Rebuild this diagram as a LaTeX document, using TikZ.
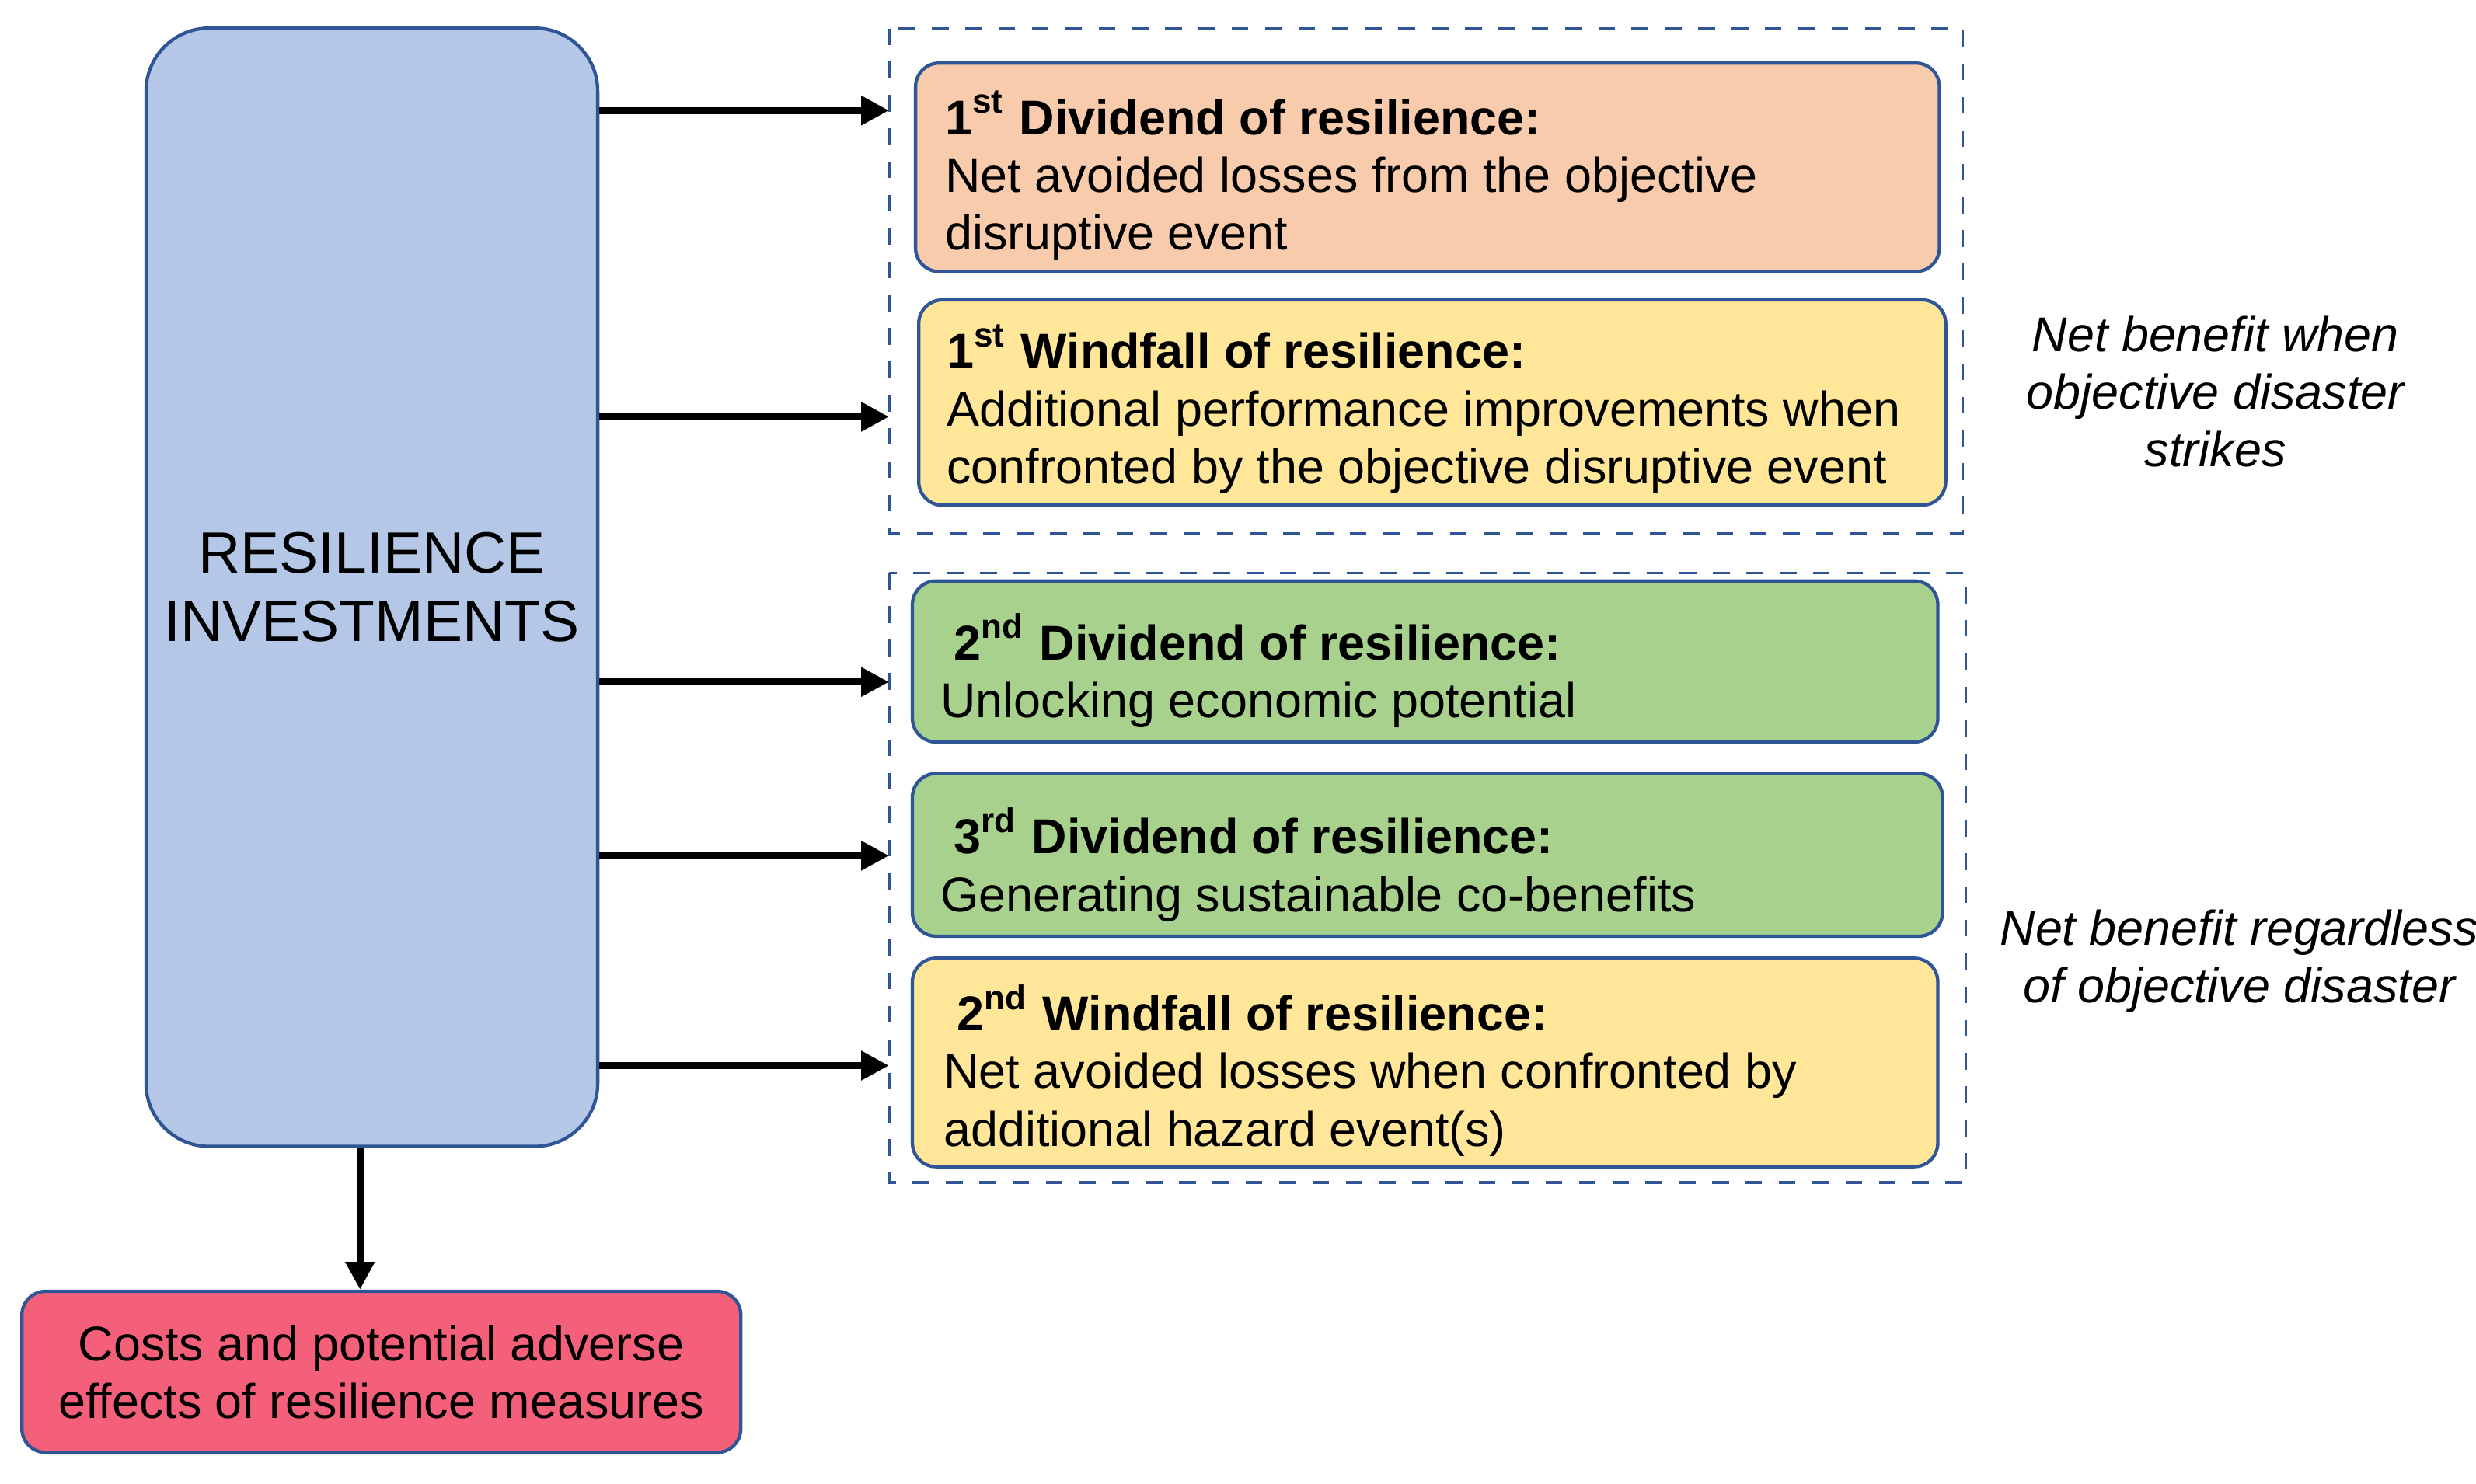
\documentclass[tikz,border=0pt]{standalone}
\usepackage{fontspec}
\setmainfont{Liberation Sans}
\usetikzlibrary{arrows.meta}
\definecolor{bluef}{HTML}{B4C7E7}
\definecolor{blued}{HTML}{2F5597}
\definecolor{orf}{HTML}{F8CBAD}
\definecolor{yef}{HTML}{FFE699}
\definecolor{grf}{HTML}{A9D18E}
\definecolor{ref}{HTML}{F4607A}
\definecolor{gry}{HTML}{404040}
\tikzset{
 card/.style={draw=blued, line width=0.6pt, rounded corners=0.15cm, inner sep=0pt},
 txt/.style={anchor=north west, align=left, font=\fontsize{8.8}{10.4}\selectfont, inner sep=0pt},
 arr/.style={-{Triangle[length=5pt,width=5pt]}, line width=1.3pt},
 dbox/.style={draw=blued, dashed, line width=0.5pt},
 note/.style={align=center, font=\fontsize{8.8}{10.4}\selectfont\itshape}
}
\begin{document}
\begin{tikzpicture}[x=0.01cm,y=-0.01cm]
\useasboundingbox (0,0) rectangle (1568,940);
\node[draw=blued, fill=bluef, line width=0.6pt, rounded corners=0.4cm, minimum width=2.85cm, minimum height=7.08cm, align=center, font=\fontsize{10.5}{12.4}\selectfont] (inv) at (235.5,372) {RESILIENCE\\INVESTMENTS};
\node[card, fill=ref, minimum width=4.55cm, minimum height=1.02cm, align=center, font=\fontsize{8.8}{10.4}\selectfont] (cost) at (241.5,869) {Costs and potential adverse\\effects of resilience measures};
\draw[arr] (inv.south -| 228,0) -- (cost.north -| 228,0);
\draw[dbox] (563,18) rectangle (1243,338);
\draw[dbox] (563,363) rectangle (1245,749);
\node[card, fill=orf, minimum width=6.48cm, minimum height=1.32cm] (b1) at (904,106) {};
\node[card, fill=yef, minimum width=6.50cm, minimum height=1.30cm] (b2) at (907,255) {};
\node[card, fill=grf, minimum width=6.49cm, minimum height=1.02cm] (b3) at (902.5,419) {};
\node[card, fill=grf, minimum width=6.52cm, minimum height=1.03cm] (b4) at (904,541.5) {};
\node[card, fill=yef, minimum width=6.49cm, minimum height=1.32cm] (b5) at (902.5,673) {};
\node[txt] (t1) at (598,57) {\textbf{1\textsuperscript{st} Dividend of resilience:}\\Net avoided losses from the objective\\disruptive event};
\node[txt] (t2) at (599,205) {\textbf{1\textsuperscript{st} Windfall of resilience:}\\Additional performance improvements when\\confronted by the objective disruptive event};
\node[txt] (t3) at (595,388) {\textbf{\ 2\textsuperscript{nd} Dividend of resilience:}\\Unlocking economic potential};
\node[txt] (t4) at (595,511) {\textbf{\ 3\textsuperscript{rd} Dividend of resilience:}\\Generating sustainable co-benefits};
\node[txt] (t5) at (597,623) {\textbf{\ 2\textsuperscript{nd} Windfall of resilience:}\\Net avoided losses when confronted by\\additional hazard event(s)};
\coordinate (e1) at (563,70); \coordinate (e2) at (563,264); \coordinate (e3) at (563,432); \coordinate (e4) at (563,542); \coordinate (e5) at (563,675);
\foreach \i in {1,...,5} \draw[arr] (inv.east |- e\i) -- (e\i);
\node[note] (n1) at (1403,248) {Net benefit when\\objective disaster\\strikes};
\node[note] (n2) at (1418,609) {Net benefit regardless\\of objective disaster};
\end{tikzpicture}
\end{document}
